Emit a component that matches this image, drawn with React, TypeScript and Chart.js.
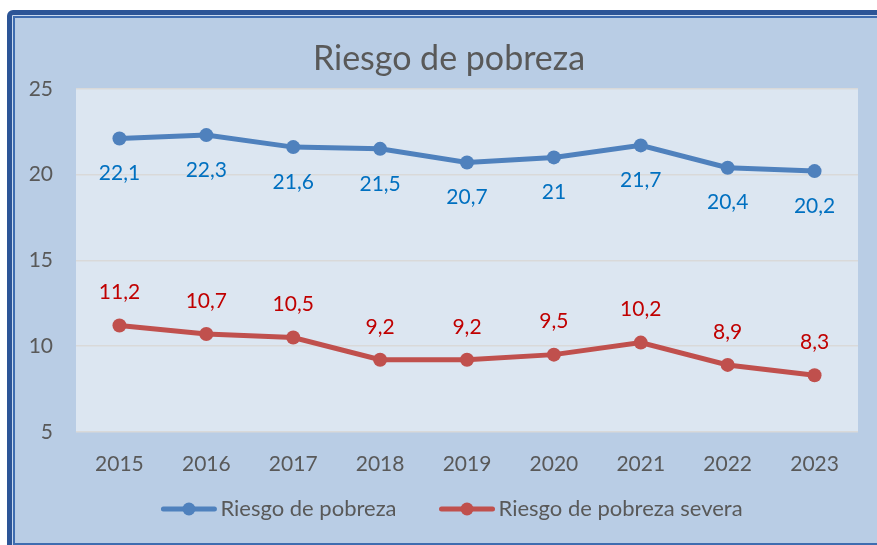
import React, { useEffect, useRef } from "react";
import { Chart, registerables } from "chart.js";
Chart.register(...registerables);

const years = ["2015", "2016", "2017", "2018", "2019", "2020", "2021", "2022", "2023"];
const riesgoPobreza = [22.1, 22.3, 21.6, 21.5, 20.7, 21, 21.7, 20.4, 20.2];
const riesgoSevera = [11.2, 10.7, 10.5, 9.2, 9.2, 9.5, 10.2, 8.9, 8.3];
const seriesNames = ["Riesgo de pobreza", "Riesgo de pobreza severa"];
const titleText = "Riesgo de pobreza";
const yMin = 5;
const yMax = 25;
const yStep = 5;

const FONT = "Lato";
const BLUE = "#4f81bd";
const RED = "#c0504d";
const BLUE_LABEL = "#0070c0";
const RED_LABEL = "#c00000";
const GREY_TEXT = "#595959";

const plotBg = {
  id: "plotBg",
  beforeDraw(chart: any) {
    const { ctx, chartArea } = chart;
    ctx.save();
    ctx.fillStyle = "#dce6f1";
    ctx.fillRect(chartArea.left, chartArea.top, chartArea.right - chartArea.left, chartArea.bottom - chartArea.top);
    ctx.restore();
  },
};

const dataLabels = {
  id: "dataLabels",
  afterDatasetsDraw(chart: any) {
    const { ctx } = chart;
    ctx.save();
    ctx.font = `21px ${FONT}`;
    ctx.textAlign = "center";
    ctx.textBaseline = "middle";
    chart.data.datasets.forEach((ds: any, i: number) => {
      const meta = chart.getDatasetMeta(i);
      ctx.fillStyle = i === 0 ? BLUE_LABEL : RED_LABEL;
      meta.data.forEach((pt: any, j: number) => {
        const txt = String(ds.data[j]).replace(".", ",");
        const dy = i === 0 ? 35 : -33;
        ctx.fillText(txt, pt.x, pt.y + dy);
      });
    });
    ctx.restore();
  },
};

const customLegend = {
  id: "customLegend",
  afterDraw(chart: any) {
    const { ctx } = chart;
    ctx.save();
    ctx.font = `22px ${FONT}`;
    const lineW = 55;
    const gapText = 4;
    const gapItems = 43;
    const colors = [BLUE, RED];
    const widths = seriesNames.map((n) => ctx.measureText(n).width);
    const total = widths.reduce((a, w) => a + lineW + gapText + w, 0) + gapItems;
    let x = 452 - total / 2;
    const y = 509;
    seriesNames.forEach((n, i) => {
      ctx.strokeStyle = colors[i];
      ctx.fillStyle = colors[i];
      ctx.lineWidth = 5;
      ctx.lineCap = "round";
      ctx.beginPath();
      ctx.moveTo(x + 2, y);
      ctx.lineTo(x + lineW - 2, y);
      ctx.stroke();
      ctx.beginPath();
      ctx.arc(x + lineW / 2, y, 6.5, 0, Math.PI * 2);
      ctx.fill();
      ctx.fillStyle = GREY_TEXT;
      ctx.textAlign = "left";
      ctx.textBaseline = "middle";
      ctx.fillText(n, x + lineW + gapText, y);
      x += lineW + gapText + widths[i] + gapItems;
    });
    ctx.restore();
  },
};

export default function App() {
  const ref = useRef<HTMLCanvasElement>(null);
  useEffect(() => {
    document.body.style.overflow = "hidden";
    const chart = new Chart(ref.current!, {
      type: "line",
      data: {
        labels: years,
        datasets: [
          {
            label: seriesNames[0],
            data: riesgoPobreza,
            borderColor: BLUE,
            backgroundColor: BLUE,
            borderWidth: 5,
            pointRadius: 7,
            pointBackgroundColor: BLUE,
            pointBorderWidth: 0,
          },
          {
            label: seriesNames[1],
            data: riesgoSevera,
            borderColor: RED,
            backgroundColor: RED,
            borderWidth: 5,
            pointRadius: 7,
            pointBackgroundColor: RED,
            pointBorderWidth: 0,
          },
        ],
      },
      options: {
        animation: false,
        responsive: false,
        maintainAspectRatio: false,
        layout: { padding: { left: 21, right: 0, top: 0, bottom: 56 } },
        plugins: {
          legend: { display: false },
          tooltip: { enabled: false },
          title: {
            display: true,
            text: titleText,
            color: GREY_TEXT,
            font: { family: FONT, size: 34, weight: "normal" },
            padding: { top: 39, bottom: 9 },
          },
        },
        scales: {
          x: {
            offset: true,
            grid: { display: false },
            border: { display: false },
            ticks: { color: GREY_TEXT, font: { family: FONT, size: 21 }, padding: 12, maxRotation: 0 },
          },
          y: {
            min: yMin,
            max: yMax,
            afterFit(scale: any) {
              scale.width = 55;
            },
            grid: { color: "#d9d9d9", lineWidth: 1.5, drawTicks: false },
            border: { display: false },
            ticks: { stepSize: yStep, color: GREY_TEXT, font: { family: FONT, size: 21 }, padding: 23 },
          },
          y2: {
            position: "right",
            min: yMin,
            max: yMax,
            afterFit(scale: any) {
              scale.width = 19;
            },
            grid: { display: false, drawTicks: false },
            border: { display: false },
            ticks: { display: false },
          },
        },
      },
      plugins: [plotBg, dataLabels, customLegend],
    });
    return () => chart.destroy();
  }, []);

  return (
    <>
      <div
        style={{
          position: "fixed",
          left: 7,
          top: 10,
          width: 900,
          height: 560,
          boxSizing: "border-box",
          border: "5px solid #2c5597",
          borderRadius: 6,
          background: "#c9d9ee",
        }}
      />
      <div
        style={{
          position: "fixed",
          left: 13,
          top: 16,
          width: 900,
          height: 529,
          boxSizing: "border-box",
          border: "2px solid #3f6db0",
          background: "#b9cde5",
        }}
      />
      <canvas
        ref={ref}
        width={877}
        height={545}
        style={{ position: "fixed", left: 0, top: 0, width: 877, height: 545 }}
      />
    </>
  );
}
